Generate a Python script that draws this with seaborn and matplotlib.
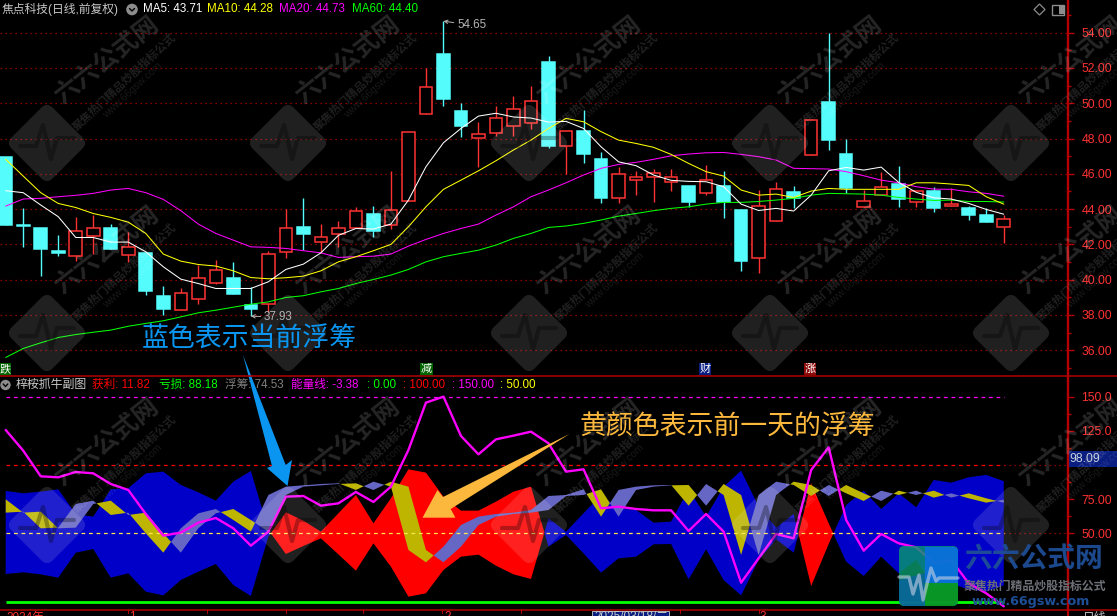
import matplotlib
matplotlib.use('Agg')
import matplotlib.pyplot as plt
from matplotlib.patches import FancyBboxPatch, Polygon, Circle, Rectangle
from matplotlib.transforms import Affine2D
import pandas as pd
import seaborn as sns

# candles, oldest first
candle_open = [46.95, 43.08, 42.90, 41.62, 41.35, 42.49, 42.92, 41.41, 41.50, 39.07, 38.29, 38.93, 39.82, 40.07, 38.56,
               38.63, 41.58, 42.98, 42.11, 42.60, 42.94, 43.72, 43.11, 44.43, 49.41, 52.79, 49.56, 48.05, 48.33, 48.69,
               48.90, 52.34, 47.55, 48.42, 46.84, 44.64, 45.66, 45.80, 45.51, 45.30, 44.93, 45.30, 43.94, 41.20, 43.30,
               44.95, 47.04, 50.07, 47.12, 44.13, 44.79, 45.42, 44.42, 45.02, 44.19, 44.06, 43.66, 43.00]
candle_close = [43.09, 43.02, 41.73, 41.50, 42.73, 42.90, 41.73, 41.83, 39.35, 38.33, 39.27, 40.07, 40.52, 39.20, 38.35,
                41.43, 42.90, 42.60, 42.39, 42.90, 43.87, 42.77, 43.92, 48.35, 50.90, 50.24, 48.73, 48.23, 49.14, 49.65,
                50.11, 47.57, 48.40, 47.14, 44.64, 45.97, 45.80, 46.02, 45.83, 44.42, 45.63, 44.38, 41.07, 44.20, 45.12,
                44.62, 49.03, 47.93, 45.19, 44.43, 45.23, 44.57, 45.02, 44.06, 44.28, 43.66, 43.26, 43.41]
candle_high = [46.95, 44.04, 42.90, 42.53, 43.55, 43.68, 43.15, 42.68, 41.50, 39.63, 39.50, 40.82, 41.11, 41.00, 39.56,
               41.62, 44.00, 44.62, 43.15, 43.32, 44.13, 44.17, 46.15, 48.35, 51.98, 54.65, 50.01, 48.93, 49.84, 50.41,
               50.98, 52.68, 48.40, 49.61, 47.23, 46.38, 46.15, 46.27, 46.27, 45.30, 46.50, 46.15, 43.98, 45.08, 45.53,
               45.30, 49.03, 54.00, 48.00, 45.08, 46.10, 46.44, 45.02, 45.25, 45.17, 44.19, 44.04, 43.66]
candle_low = [43.09, 41.84, 40.20, 41.33, 41.07, 41.45, 41.73, 41.01, 39.12, 37.99, 38.29, 38.61, 39.75, 39.20, 37.93,
              38.18, 41.24, 41.67, 41.49, 41.86, 42.93, 42.43, 42.88, 44.43, 49.41, 49.84, 48.10, 46.40, 48.16, 48.16,
              48.56, 47.46, 45.97, 46.63, 44.36, 44.36, 44.79, 44.42, 45.04, 44.11, 44.81, 43.49, 40.50, 40.39, 43.30,
              44.04, 47.04, 47.36, 44.89, 44.13, 44.79, 44.11, 44.11, 43.83, 44.19, 43.38, 43.24, 42.05]

ma5 = [45.04, 44.93, 44.23, 43.57, 42.39, 42.39, 42.13, 42.13, 41.58, 40.73, 40.03, 39.78, 39.50, 39.50, 39.50,
       39.88, 40.58, 40.88, 41.52, 42.51, 42.90, 42.87, 43.15, 44.51, 46.40, 47.76, 48.57, 49.27, 49.43, 49.22,
       49.16, 48.93, 48.97, 48.57, 47.53, 46.68, 46.46, 45.93, 45.63, 45.57, 45.55, 45.27, 44.28, 43.92, 44.04,
       43.89, 44.79, 46.17, 46.36, 46.21, 46.38, 45.51, 44.95, 44.64, 44.57, 44.32, 43.98, 43.71]
ma10 = [46.82, 45.87, 44.93, 44.32, 44.09, 43.75, 43.53, 43.26, 42.62, 41.45, 41.05, 40.86, 40.77, 40.50, 40.12,
        40.05, 40.11, 40.20, 40.50, 41.01, 41.30, 41.64, 42.00, 43.00, 44.13, 45.12, 45.64, 46.17, 46.74, 47.35,
        47.91, 48.57, 49.14, 48.95, 48.39, 47.91, 47.72, 47.50, 47.10, 46.59, 46.12, 45.87, 45.08, 44.79, 44.85,
        44.66, 45.02, 45.17, 45.12, 45.12, 45.12, 45.12, 45.49, 45.49, 45.42, 45.34, 44.70, 44.28]
ma20 = [44.17, 44.57, 44.61, 44.70, 44.78, 44.89, 45.08, 45.17, 44.93, 44.55, 43.91, 43.15, 42.62, 42.24, 41.86,
        41.83, 41.77, 41.64, 41.52, 41.26, 41.30, 41.33, 41.45, 41.90, 42.28, 42.62, 42.90, 43.15, 43.66, 44.13,
        44.70, 45.08, 45.49, 45.93, 46.31, 46.53, 46.65, 46.82, 47.02, 47.12, 47.19, 47.21, 47.10, 46.97, 46.78,
        46.31, 46.29, 46.27, 46.12, 45.89, 45.64, 45.49, 45.27, 45.13, 45.12, 44.98, 44.89, 44.73]
ma60 = [35.59, 36.10, 36.42, 36.72, 36.89, 37.02, 37.14, 37.36, 37.52, 37.67, 37.89, 38.12, 38.27, 38.44, 38.61,
        38.74, 38.99, 39.09, 39.31, 39.50, 39.78, 40.01, 40.26, 40.58, 41.01, 41.30, 41.49, 41.67, 41.96, 42.34,
        42.62, 42.96, 43.04, 43.19, 43.38, 43.60, 43.75, 43.91, 44.04, 44.13, 44.28, 44.38, 44.38, 44.43, 44.51,
        44.61, 44.79, 44.89, 44.87, 44.85, 44.79, 44.66, 44.57, 44.49, 44.51, 44.43, 44.43, 44.40]

# sub chart
profit = [20.24, 21.46, 20.00, 17.56, 35.85, 38.54, 17.56, 20.73, 7.32, 4.63, 15.85, 21.95, 27.56, 12.20, 4.15,
          47.56, 65.37, 59.27, 51.22, 64.63, 78.05, 57.32, 75.61, 96.83, 94.39, 76.83, 66.59, 66.59, 73.17, 80.49,
          84.15, 40.24, 48.78, 35.37, 21.22, 31.71, 32.93, 41.95, 42.20, 16.34, 38.29, 15.85, 4.63, 30.49, 45.61,
          35.85, 86.59, 57.32, 29.27, 18.78, 32.93, 20.73, 30.49, 10.98, 12.93, 9.03, 7.32, 11.82]
loss = [80.98, 79.27, 80.49, 82.20, 64.15, 62.20, 82.20, 82.93, 93.90, 95.12, 85.37, 80.00, 73.90, 87.81, 95.61,
        52.44, 34.88, 40.73, 46.34, 34.63, 22.68, 42.68, 25.61, 3.66, 6.10, 23.17, 32.93, 34.39, 26.34, 20.00,
        16.59, 60.98, 51.22, 64.63, 78.05, 68.29, 67.07, 57.81, 58.54, 82.20, 62.20, 84.15, 95.85, 69.51, 54.15,
        64.15, 11.46, 42.20, 70.73, 81.22, 67.81, 79.27, 69.03, 89.03, 87.07, 90.98, 92.68, 88.18]
float_now = [65.12, 65.85, 53.66, 54.15, 71.46, 73.90, 63.41, 65.12, 50.00, 35.85, 53.66, 64.63, 67.80, 59.76, 51.22,
             78.05, 84.15, 85.12, 86.10, 86.59, 81.71, 87.80, 84.15, 37.80, 28.78, 40.24, 56.10, 62.20, 64.15, 65.12,
             67.07, 77.32, 78.05, 82.20, 62.20, 81.71, 84.15, 85.12, 85.37, 70.24, 86.10, 78.05, 34.15, 78.05, 87.80,
             85.37, 77.32, 85.37, 79.27, 73.66, 81.22, 78.05, 81.22, 76.10, 79.27, 75.61, 72.44, 74.53]
float_prev = [74.88, 65.12, 65.85, 53.66, 54.15, 71.46, 73.90, 63.41, 65.12, 50.00, 35.85, 53.66, 64.63, 67.80, 59.76,
              51.22, 78.05, 84.15, 85.12, 86.10, 86.59, 81.71, 87.80, 84.15, 37.80, 28.78, 40.24, 56.10, 62.20, 64.15,
              65.12, 67.07, 77.32, 78.05, 82.20, 62.20, 81.71, 84.15, 85.12, 85.37, 70.24, 86.10, 78.05, 34.15, 78.05,
              87.80, 85.37, 77.32, 85.37, 79.27, 73.66, 81.22, 78.05, 81.22, 76.10, 79.27, 75.61, 72.44]
energy = [125.60, 110.50, 91.71, 90.98, 94.88, 93.90, 86.10, 81.71, 64.15, 48.30, 50.50, 57.80, 61.22, 53.66, 40.98,
          51.22, 76.83, 77.32, 70.24, 71.95, 80.24, 72.93, 84.15, 110.98, 145.61, 150.00, 121.22, 107.80, 118.78, 121.46,
          124.39, 115.85, 95.12, 96.83, 68.29, 69.51, 67.80, 66.83, 66.83, 51.71, 64.15, 51.22, 13.90, 31.71, 49.50,
          46.34, 96.34, 112.93, 59.76, 37.32, 49.50, 42.68, 39.76, 28.54, 30.49, 13.41, 6.10, -3.38]

top_ticks = [36, 38, 40, 42, 44, 46, 48, 50, 52, 54]
sub_ticks = [50, 75, 100, 125, 150]
# the 100 label sits under the 98.09 flag in the original
sub_tick_labels = ['50.00', '75.00', '', '125.0', '150.0']

UP = '#FF3232'
DOWN = '#54FCFC'
AXIS_RED = '#B40000'
SLATE = '#6666C4'
OLIVE = '#BDB500'
NOTE_BLUE = '#0A96F0'
NOTE_ORANGE = '#FCB83C'
W, H = 1117, 616

sns.set_theme(style='dark', rc={'figure.facecolor': 'black', 'axes.facecolor': 'black', 'savefig.facecolor': 'black'})
plt.rcParams['font.family'] = ['Liberation Sans', 'Noto Sans CJK SC']
plt.rcParams['axes.unicode_minus'] = False

df = pd.DataFrame({'i': range(len(candle_open)), 'ma5': ma5, 'ma10': ma10, 'ma20': ma20, 'ma60': ma60,
                   'energy': energy})
xs = df['i'].values
df_c = pd.DataFrame({'open': candle_open, 'close': candle_close, 'high': candle_high, 'low': candle_low})
is_up = df_c['close'] > df_c['open']


def px_axes(left, top, right, bottom, **kw):
    return fig.add_axes([left / W, 1 - bottom / H, (right - left) / W, (bottom - top) / H], **kw)


fig = plt.figure(figsize=(W / 100, H / 100), dpi=100)
XLIM = (-0.326, 60.64)

# --- price panel
ax = px_axes(0, 0, 1067.5, 376)
ax.set_xlim(*XLIM)
ax.set_ylim(34.54, 55.85)
ax.yaxis.grid(True, which='major', color=AXIS_RED, ls=(0, (1, 3)), lw=0.9)
ax.set_axisbelow(True)
for up, col in [(True, UP), (False, DOWN)]:
    m = is_up == up
    ax.vlines(xs[m], df_c['low'][m], df_c['high'][m], color=col, lw=1.0, zorder=2)
    ax.bar(xs[m], (df_c['close'] - df_c['open'])[m], bottom=df_c['open'][m], width=0.72,
           facecolor='black' if up else col, edgecolor=col, lw=1.1, zorder=3)
for name, col in [('ma60', '#00FF00'), ('ma20', '#FF00FF'), ('ma10', '#FFFF00'), ('ma5', '#FFFFFF')]:
    sns.lineplot(data=df, x='i', y=name, color=col, lw=0.75, ax=ax, estimator=None, legend=False, zorder=4)
ax.set_xticks([])
ax.set_yticks(top_ticks)
ax.set_yticks([t + 1 for t in top_ticks[:-1]] + [35, 55], minor=True)
ax.set_yticklabels(['%.2f' % t for t in top_ticks])

# --- sub chart panel
ax2 = px_axes(0, 376, 1067.5, 610)
ax2.set_xlim(*XLIM)
ax2.set_ylim(-6.1, 165.1)
ax2.hlines([100, 50], xs[-1], XLIM[1], color=AXIS_RED, ls=(0, (1, 3)), lw=0.9)
ax2.fill_between(xs, profit, loss, where=[l >= p for l, p in zip(loss, profit)], interpolate=True,
                 color='#0000C8', lw=0, zorder=2)
ax2.fill_between(xs, profit, loss, where=[p >= l for l, p in zip(loss, profit)], interpolate=True,
                 color='#FF0000', lw=0, zorder=2)
ax2.fill_between(xs, float_now, float_prev, where=[n >= p for n, p in zip(float_now, float_prev)], interpolate=True,
                 color=SLATE, lw=0, zorder=3)
ax2.fill_between(xs, float_now, float_prev, where=[n <= p for n, p in zip(float_now, float_prev)], interpolate=True,
                 color=OLIVE, lw=0, zorder=3)
ax2.hlines(150, xs[0], xs[-1], color='#FF00FF', ls=(0, (3, 3)), lw=0.9, zorder=4)
ax2.hlines(100, xs[0], xs[-1], color='#FF0000', ls=(0, (3, 3)), lw=0.9, zorder=4)
ax2.hlines(50, xs[0], xs[-1], color='#FFE650', ls=(0, (3, 3)), lw=0.9, zorder=4)
ax2.hlines(0, xs[0], xs[-1], color='#00FF00', lw=2.0, zorder=4)
sns.lineplot(data=df, x='i', y='energy', color='#FF00FF', lw=1.7, ax=ax2, estimator=None, legend=False, zorder=5)
ax2.set_xticks([])
ax2.set_yticks(sub_ticks)
ax2.set_yticks([62.5, 87.5, 112.5, 137.5], minor=True)
ax2.set_yticklabels(sub_tick_labels)

for a in (ax, ax2):
    a.set_xlabel('')
    a.set_ylabel('')
    for s in ['top', 'left', 'bottom']:
        a.spines[s].set_visible(False)
    a.spines['right'].set_visible(True)
    a.spines['right'].set_color(AXIS_RED)
    a.spines['right'].set_linewidth(1.6)
    a.yaxis.tick_right()
    a.tick_params(axis='y', which='major', length=4, width=1, color=AXIS_RED, labelcolor=UP, labelsize=8.8, pad=6)
    a.tick_params(axis='y', which='minor', length=2.2, width=1, color=AXIS_RED, right=True, left=False)

# --- overlay in picture pixels
ov = fig.add_axes([0, 0, 1, 1], zorder=10)
ov.set_xlim(0, W)
ov.set_ylim(H, 0)
ov.axis('off')
ov.patch.set_visible(False)

# watermark grid
for cx in [47, 288, 529, 770, 1011]:
    for cy in [143, 333, 525]:
        tr = Affine2D().rotate_deg(45).translate(cx, cy) + ov.transData
        ov.add_patch(FancyBboxPatch((-29, -29), 58, 58, boxstyle='round,pad=0,rounding_size=8',
                                    fc='white', alpha=0.13, lw=0, transform=tr))
        ov.plot([cx - 27, cx - 11, cx - 4, cx + 4, cx + 10, cx + 27],
                [cy + 3, cy + 3, cy - 18, cy + 16, cy - 5, cy - 5], color='black', alpha=0.3, lw=3)
        ov.text(cx + 60, cy - 83, '六六公式网', color='white', alpha=0.15, fontsize=18, fontweight='bold',
                rotation=38, rotation_mode='anchor', ha='center', va='center', clip_on=True)
        ov.text(cx + 77, cy - 61, '聚焦热门精品炒股指标公式', color='white', alpha=0.13, fontsize=8.2,
                fontweight='bold', rotation=43, rotation_mode='anchor', ha='center', va='center', clip_on=True)
        ov.text(cx + 86, cy - 53, 'www.66gsw.com', color='white', alpha=0.10, fontsize=7.5,
                rotation=43, rotation_mode='anchor', ha='center', va='center', clip_on=True)

# frame lines
ov.plot([0, W], [376, 376], color=AXIS_RED, lw=1.1)
ov.plot([0, W], [610, 610], color=AXIS_RED, lw=1.1)
ov.plot([1067.5, 1067.5], [0, H], color=AXIS_RED, lw=1.6)
for t in [127.5, 206.6, 285.7, 363, 442, 521, 680, 758.7]:
    ov.plot([t, t], [610, 613], color=AXIS_RED, lw=0.8)

# header rows
ov.text(2, 9, '焦点科技(日线,前复权)', color='#C8C8C8', fontsize=8.5, va='center')
for label, x0, col in [('MA5: 43.71', 143, '#FFFFFF'), ('MA10: 44.28', 207, '#FFFF00'),
                       ('MA20: 44.73', 279, '#FF00FF'), ('MA60: 44.40', 352, '#00FF00')]:
    ov.text(x0, 9, label, color=col, fontsize=8.4, va='center')
ov.add_patch(Circle((132, 9.5), 5.8, fc='#8C8C8C', lw=0))
ov.plot([129.5, 132, 134.5], [8.5, 11, 8.5], color='black', lw=1)
ov.add_patch(Circle((5.5, 385), 5.2, fc='#8C8C8C', lw=0))
ov.plot([3.2, 5.5, 7.8], [384, 386.5, 384], color='black', lw=1)
ov.text(16, 385, '梓桉抓牛副图', color='#C8C8C8', fontsize=8.6, va='center')
for label, x0, col in [('获利: 11.82', 92.5, '#FF0000'), ('亏损: 88.18', 159, '#00FF00'),
                       ('浮筹: 74.53', 225, '#808080'), ('能量线: -3.38', 291, '#FF00FF'),
                       (': 0.00', 367, '#00FF00'), (': 100.00', 403, '#FF0000'),
                       (': 150.00', 452, '#FF00FF'), (': 50.00', 500, '#FFFF00')]:
    ov.text(x0, 385, label, color=col, fontsize=8.4, va='center')

# event tags above the sub chart
for label, x0, x1, col in [('跌', 0, 11, '#006400'), ('减', 420, 433, '#006400'),
                           ('财', 699, 711, '#0A1E82'), ('涨', 804, 816, '#8C0A0A')]:
    ov.add_patch(Rectangle((x0, 362.7), x1 - x0, 12.3, fc=col, lw=0))
    ov.text((x0 + x1) / 2, 369, label, color='white', fontsize=8, ha='center', va='center')

# high / low marks
for label, i, val, tx, ty in [('54.65', 25, 54.65, 457, 25), ('37.93', 14, 37.93, 264, 317)]:
    ov.annotate(label, xy=ax.transData.transform((xs[i], val)), xycoords='figure pixels', xytext=(tx, ty),
                textcoords='data', color='#B4B4B4', fontsize=8.4, va='center',
                arrowprops=dict(arrowstyle='->', color='#B4B4B4', lw=0.7, shrinkA=0, shrinkB=0,
                                mutation_scale=6))

# top right icons
ov.add_patch(Polygon([[1039.5, 4], [1045, 9.5], [1039.5, 15], [1034, 9.5]], fc='none', ec='#8C8C8C', lw=0.9))
ov.add_patch(Rectangle((1052, 4.5), 12, 10, fc='none', ec='#8C8C8C', lw=1))
ov.add_patch(Rectangle((1059, 5), 4.5, 9, fc='#8C8C8C', lw=0))

# price flag on the axis
ov.add_patch(Rectangle((1068.5, 451), W - 1068.5, 16, fc='#0A1E82', lw=0))
ov.text(1069.5, 459, '98.09', color='#C8D2DC', fontsize=8.8, va='center')

# bottom date strip, mostly cut off by the frame
ov.text(6, 611.5, '2024年', color=UP, fontsize=8.5, va='top', clip_on=True)
ov.text(129, 611.5, '1', color=UP, fontsize=8.5, va='top', clip_on=True)
ov.text(444, 611.5, '2', color=UP, fontsize=8.5, va='top', clip_on=True)
ov.text(760, 611.5, '3', color=UP, fontsize=8.5, va='top', clip_on=True)
ov.add_patch(Rectangle((592, 611), 77, 6, fc='#0A1E82', ec='#C8C8C8', lw=0.6))
ov.text(594, 611.5, '2025/03/18/二', color='#C8C8C8', fontsize=8.5, va='top', clip_on=True)
ov.text(1083, 611.5, '日线', color='#C8C8C8', fontsize=8.5, va='top', clip_on=True)

# hand-drawn notes
ov.add_patch(Polygon([[243, 355], [285.7, 465], [292, 460], [287.5, 486], [267, 468], [272, 466]],
                     fc=NOTE_BLUE, lw=0))
ov.add_patch(Polygon([[569.5, 434], [450.7, 509], [455.4, 517.7], [422.5, 517.7], [437.5, 490], [443, 497]],
                     fc=NOTE_ORANGE, lw=0))
ov.text(249, 339, '蓝色表示当前浮筹', color=NOTE_BLUE, fontsize=19.4, ha='center', va='center',
        family='Noto Sans CJK SC')
ov.text(727, 427, '黄颜色表示前一天的浮筹', color=NOTE_ORANGE, fontsize=19.4, ha='center', va='center',
        family='Noto Sans CJK SC')

# site logo, lower right
ov.add_patch(FancyBboxPatch((899, 546), 59, 60, boxstyle='round,pad=0,rounding_size=5', fc='#0A9C6E', alpha=0.8, lw=0))
ov.add_patch(Polygon([[925, 547], [955, 547], [958, 550], [958, 583], [925, 583]], fc='#0A6EE6', alpha=0.85, lw=0))
ov.add_patch(Polygon([[925, 583], [958, 583], [958, 602], [954, 606], [925, 606]], fc='#0A9A1E', alpha=0.85, lw=0))
ov.add_patch(Polygon([[899, 580], [925, 573], [925, 606], [903, 606], [899, 602]], fc='#0A64A0', alpha=0.85, lw=0))
ov.plot([899, 909, 913, 919, 923, 931, 936, 939, 958], [577, 577, 594, 575, 600, 568, 581, 578, 578],
        color='#C8D2E6', alpha=0.6, lw=2.4)
ov.text(1033, 560.5, '六六公式网', color='#1E4E96', fontsize=20, fontweight='bold', ha='center', va='center',
        alpha=0.95)
ov.text(1034.5, 587, '聚焦热门精品炒股指标公式', color='#6E7078', fontsize=8.6, fontweight='bold', ha='center', va='center')
ov.text(1031, 602, 'www.66gsw.com', color='#1E4E96', fontsize=9.2, fontweight='bold', ha='center', va='center',
        family='DejaVu Sans')

fig.savefig('out.png', dpi=100, facecolor='black')
